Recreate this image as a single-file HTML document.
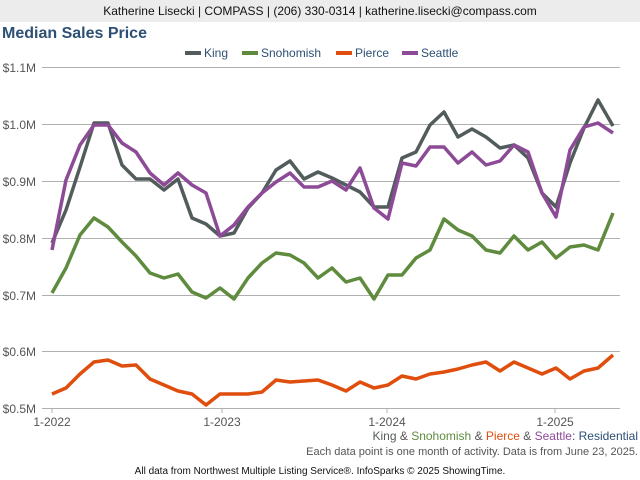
<!DOCTYPE html>
<html><head><meta charset="utf-8"><style>
body{margin:0;width:640px;height:480px;background:#fff;font-family:"Liberation Sans",sans-serif;overflow:hidden;position:relative}
.hdr{position:absolute;left:0;top:0;width:640px;height:22px;background:#ececec;text-align:center;font-size:12px;line-height:22px;color:#111}
.t{position:absolute;left:2px;top:25px;font-size:16px;font-weight:bold;color:#2d4f73}
svg{position:absolute;left:0;top:0}
</style></head><body>
<div class="hdr">Katherine Lisecki | COMPASS | (206) 330-0314 | katherine.lisecki@compass.com</div>
<div class="t">Median Sales Price</div>
<svg width="640" height="480" font-family="Liberation Sans, sans-serif">
<g stroke="#b0b0b0" stroke-width="1">
<line x1="42" x2="620" y1="67.5" y2="67.5"/><line x1="42" x2="620" y1="124.5" y2="124.5"/><line x1="42" x2="620" y1="181.5" y2="181.5"/><line x1="42" x2="620" y1="238.5" y2="238.5"/><line x1="42" x2="620" y1="295.5" y2="295.5"/><line x1="42" x2="620" y1="351.5" y2="351.5"/><line x1="42" x2="620" y1="408.5" y2="408.5"/>
<line x1="52" x2="52" y1="408" y2="413"/><line x1="222" x2="222" y1="408" y2="413"/><line x1="387" x2="387" y1="408" y2="413"/><line x1="555" x2="555" y1="408" y2="413"/>
</g>
<g font-size="12" fill="#555" text-anchor="end">
<text x="36" y="72">$1.1M</text><text x="36" y="129">$1.0M</text><text x="36" y="186">$0.9M</text><text x="36" y="243">$0.8M</text><text x="36" y="300">$0.7M</text><text x="36" y="356">$0.6M</text><text x="36" y="413">$0.5M</text>
</g>
<g font-size="12" fill="#555" text-anchor="middle">
<text x="52" y="426">1-2022</text><text x="222" y="426">1-2023</text><text x="387" y="426">1-2024</text><text x="555" y="426">1-2025</text>
</g>
<g font-size="12" fill="#2d4f73">
<rect x="185" y="51" width="16" height="4" fill="#535c5c"/><text x="204" y="57">King</text>
<rect x="242" y="51" width="16" height="4" fill="#5f8b3e"/><text x="261" y="57">Snohomish</text>
<rect x="336" y="51" width="16" height="4" fill="#e04e0d"/><text x="355" y="57">Pierce</text>
<rect x="402" y="51" width="16" height="4" fill="#8c4a97"/><text x="421" y="57">Seattle</text>
</g>
<g fill="none" stroke-width="3.5" stroke-linejoin="round">
<polyline stroke="#e04e0d" points="52,394 66,388 80,374 94,362 108,360 122,366 136,365 150,379 164,385 178,391 192,394 206,405 220,394 234,394 248,394 262,392 276,380 290,382 304,381 318,380 332,385 346,391 360,382 374,388 388,385 402,376 416,379 430,374 444,372 458,369 472,365 486,362 500,371 514,362 528,368 542,374 556,368 570,379 584,371 598,368 613,355"/>
<polyline stroke="#5f8b3e" points="52,293 66,268 80,235 94,218 108,227 122,242 136,256 150,273 164,278 178,274 192,292 206,298 220,288 234,299 248,278 262,263 276,253 290,255 304,263 318,278 332,268 346,282 360,278 374,299 388,275 402,275 416,258 430,250 444,219 458,230 472,236 486,250 500,253 514,236 528,250 542,242 556,258 570,247 584,245 598,250 613,213"/>
<polyline stroke="#535c5c" points="52,243 66,210 80,167 94,123 108,123 122,165 136,179 150,179 164,190 178,179 192,218 206,224 220,236 234,233 248,208 262,193 276,170 290,161 304,179 318,172 332,178 346,185 360,192 374,207 388,207 402,158 416,152 430,125 444,112 458,137 472,129 486,137 500,148 514,145 528,158 542,193 556,207 570,163 584,128 598,100 613,126"/>
<polyline stroke="#8c4a97" points="52,250 66,180 80,145 94,125 108,125 122,143 136,152 150,173 164,185 178,173 192,185 206,193 220,236 234,225 248,207 262,193 276,182 290,173 304,187 318,187 332,181 346,190 360,168 374,208 388,219 402,163 416,166 430,147 444,147 458,163 472,152 486,165 500,161 514,145 528,152 542,193 556,217 570,150 584,127 598,123 613,133"/>
</g>
<text x="638" y="440" font-size="12" text-anchor="end"><tspan fill="#535c5c">King</tspan><tspan fill="#555"> &amp; </tspan><tspan fill="#5f8b3e">Snohomish</tspan><tspan fill="#555"> &amp; </tspan><tspan fill="#e04e0d">Pierce</tspan><tspan fill="#555"> &amp; </tspan><tspan fill="#8c4a97">Seattle</tspan><tspan fill="#2d4f73">: Residential</tspan></text>
<text x="638" y="455" font-size="11" fill="#555" text-anchor="end">Each data point is one month of activity. Data is from June 23, 2025.</text>
<text x="320" y="474" font-size="10" fill="#111" text-anchor="middle">All data from Northwest Multiple Listing Service®. InfoSparks © 2025 ShowingTime.</text>
</svg>
</body></html>
